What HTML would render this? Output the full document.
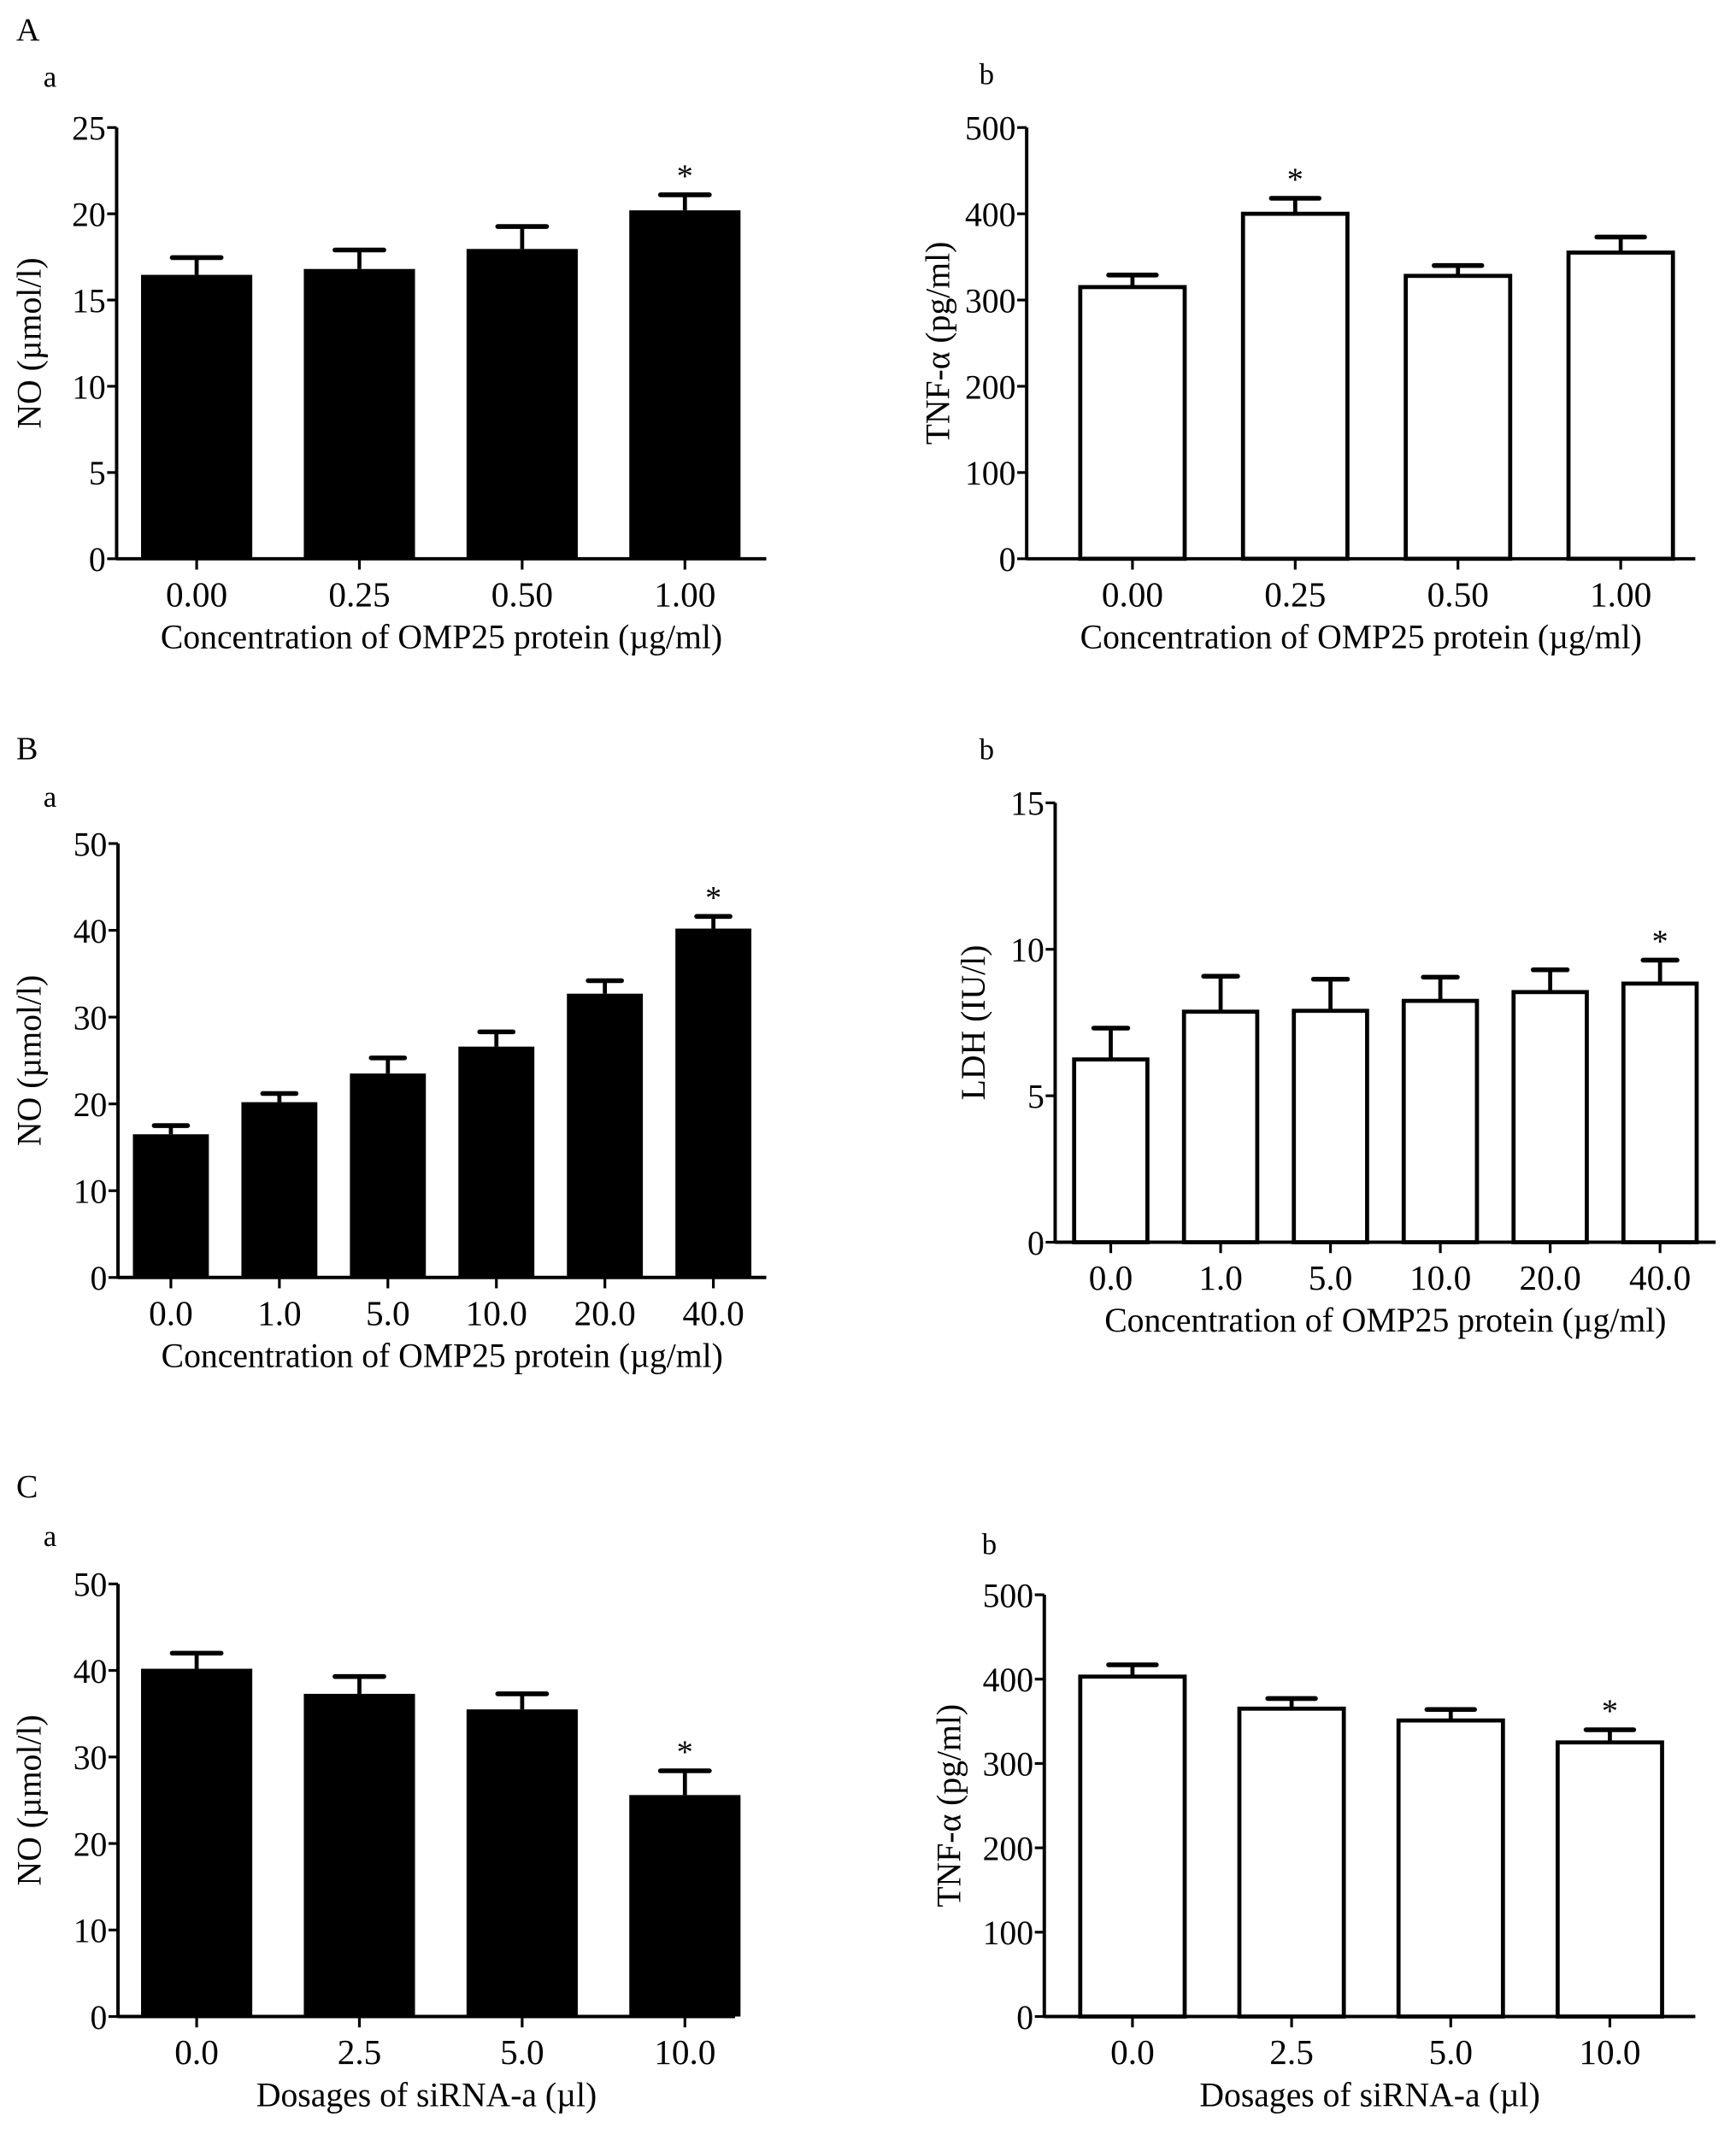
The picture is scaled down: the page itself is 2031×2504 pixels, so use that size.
<!DOCTYPE html>
<html><head><meta charset="utf-8"><style>
html,body{margin:0;padding:0;background:#fff;}
svg{display:block;}
text{font-family:"Liberation Serif",serif;fill:#000;}
</style></head><body>
<svg id="fig" width="2031" height="2504" viewBox="0 0 1280 1578" xmlns="http://www.w3.org/2000/svg">
<text x="12" y="30" font-size="24">A</text>
<text x="32" y="64" font-size="22">a</text>
<text x="722" y="62" font-size="22">b</text>
<text x="12" y="560" font-size="24">B</text>
<text x="32" y="595" font-size="22">a</text>
<text x="722" y="560" font-size="22">b</text>
<text x="12" y="1104" font-size="24">C</text>
<text x="32" y="1140" font-size="22">a</text>
<text x="724" y="1146" font-size="22">b</text>
</svg>
<script>
// Panel A-a
const aaCats = ["0.00","0.25","0.50","1.00"];
const aaVals = [16.46, 16.8, 17.96, 20.2];
const aaErrs = [1.0, 1.1, 1.3, 0.9];
const aaTicks = [0,5,10,15,20,25];
// Panel A-b
const abCats = ["0.00","0.25","0.50","1.00"];
const abVals = [315, 400, 328, 355];
const abErrs = [14, 18, 12, 18];
const abTicks = [0,100,200,300,400,500];
// Panel B-a
const baCats = ["0.0","1.0","5.0","10.0","20.0","40.0"];
const baVals = [16.5, 20.2, 23.5, 26.6, 32.7, 40.2];
const baErrs = [1.0, 1.0, 1.8, 1.7, 1.5, 1.4];
const baTicks = [0,10,20,30,40,50];
// Panel B-b
const bbCats = ["0.0","1.0","5.0","10.0","20.0","40.0"];
const bbVals = [6.24, 7.87, 7.9, 8.24, 8.54, 8.83];
const bbErrs = [1.07, 1.21, 1.08, 0.81, 0.76, 0.8];
const bbTicks = [0,5,10,15];
// Panel C-a
const caCats = ["0.0","2.5","5.0","10.0"];
const caVals = [40.2, 37.3, 35.5, 25.6];
const caErrs = [1.8, 2.0, 1.8, 2.8];
const caTicks = [0,10,20,30,40,50];
// Panel C-b
const cbCats = ["0.0","2.5","5.0","10.0"];
const cbVals = [403, 365, 351, 325];
const cbErrs = [14, 12, 13, 15];
const cbTicks = [0,100,200,300,400,500];

const NS = "http://www.w3.org/2000/svg";
const svg = document.getElementById('fig');
function mk(tag, attrs, parent){
  const e = document.createElementNS(NS, tag);
  for (const k in attrs) e.setAttribute(k, attrs[k]);
  (parent||svg).appendChild(e);
  return e;
}
function chart(id, cfg, cats, vals, errs, ticks, star){
  const g = mk('g', {});
  
  
  const max = ticks[ticks.length-1];
  const y = v => cfg.y0 - (v/max)*(cfg.y0 - cfg.yTop);
  const step = (cfg.xLast - cfg.xFirst)/(cats.length-1);
  const x = i => cfg.xFirst + i*step;
  const sw = cfg.fill ? 0 : 3;
  cats.forEach((c,i)=>{
    const top = y(vals[i]);
    const eTop = y(vals[i]+errs[i]);
    const el = mk('line', {x1:x(i), x2:x(i), y1:top, y2:eTop, stroke:'#000','stroke-width':3}, g);
    
    
    const cap = mk('line', {x1:x(i)-cfg.bw*0.22, x2:x(i)+cfg.bw*0.22, y1:eTop, y2:eTop, stroke:'#000','stroke-width':3.5,'stroke-linecap':'round'}, g);
    
    
    const r = mk('rect', {x:x(i)-cfg.bw/2+sw/2, y:top, width:cfg.bw-sw, height:cfg.y0-top,
      fill: cfg.fill ? '#000' : '#fff', stroke:'#000','stroke-width':sw}, g);
    
    
    const t = mk('text', {x:x(i), y:cfg.y0+35, 'font-size':26, 'text-anchor':'middle'}, g);
    t.textContent = c;
    
    
    const tk = mk('line', {x1:x(i), x2:x(i), y1:cfg.y0, y2:cfg.y0+8, stroke:'#000','stroke-width':2}, g);
    
    
    if (i === star){
      const s = mk('text', {x:x(i), y:eTop-6, 'font-size':24, 'text-anchor':'middle'}, g);
      s.textContent = '*';
      
      
    }
  });
  const ya = mk('line', {x1:cfg.ax, x2:cfg.ax, y1:cfg.yTop, y2:cfg.y0+1, stroke:'#000','stroke-width':2.5}, g);
  
  
  const xa = mk('line', {x1:cfg.ax, x2:cfg.xEnd, y1:cfg.y0, y2:cfg.y0, stroke:'#000','stroke-width':2.5}, g);
  
  
  ticks.forEach(tv=>{
    const l = mk('line', {x1:cfg.ax-7, x2:cfg.ax, y1:y(tv), y2:y(tv), stroke:'#000','stroke-width':2}, g);
    
    
    const t = mk('text', {x:cfg.ax-8, y:y(tv)+9, 'font-size':25, 'text-anchor':'end'}, g);
    t.textContent = tv;
    
    
  });
  const yt = mk('text', {x:0, y:0, 'font-size':25, 'text-anchor':'middle',
    transform:'translate(' + cfg.ytx + ',' + ((cfg.y0+cfg.yTop)/2) + ') rotate(-90)'}, g);
  yt.textContent = cfg.ytitle;
  
  
  const xt = mk('text', {x:(cfg.ax+cfg.xEnd)/2, y:cfg.y0+66, 'font-size':25, 'text-anchor':'middle'}, g);
  xt.textContent = cfg.xtitle;
  
  
}
const conc = "Concentration of OMP25 protein (\u00b5g/ml)";
const dos = "Dosages of siRNA-a (\u00b5l)";
chart('no-omp25', {ax:86, xEnd:565, xFirst:145, xLast:505, bw:82, y0:412, yTop:94, fill:true, ytx:30, ytitle:"NO (\u00b5mol/l)", xtitle:conc}, aaCats, aaVals, aaErrs, aaTicks, 3);
chart('tnf-omp25', {ax:757, xEnd:1250, xFirst:835, xLast:1195, bw:80, y0:412, yTop:94, fill:false, ytx:700, ytitle:"TNF-\u03b1  (pg/ml)", xtitle:conc}, abCats, abVals, abErrs, abTicks, 1);
chart('no-omp25-range', {ax:87, xEnd:565, xFirst:126, xLast:526, bw:56, y0:942, yTop:622, fill:true, ytx:30, ytitle:"NO (\u00b5mol/l)", xtitle:conc}, baCats, baVals, baErrs, baTicks, 5);
chart('ldh-omp25', {ax:778, xEnd:1265, xFirst:819, xLast:1224, bw:57, y0:916, yTop:592, fill:false, ytx:726, ytitle:"LDH (IU/l)", xtitle:conc}, bbCats, bbVals, bbErrs, bbTicks, 5);
chart('no-sirna', {ax:87, xEnd:542, xFirst:145, xLast:505, bw:82, y0:1487, yTop:1168, fill:true, ytx:30, ytitle:"NO (\u00b5mol/l)", xtitle:dos}, caCats, caVals, caErrs, caTicks, 3);
chart('tnf-sirna', {ax:770, xEnd:1250, xFirst:835, xLast:1187, bw:80, y0:1487, yTop:1176, fill:false, ytx:708, ytitle:"TNF-\u03b1  (pg/ml)", xtitle:dos}, cbCats, cbVals, cbErrs, cbTicks, 3);
</script>
</body></html>
